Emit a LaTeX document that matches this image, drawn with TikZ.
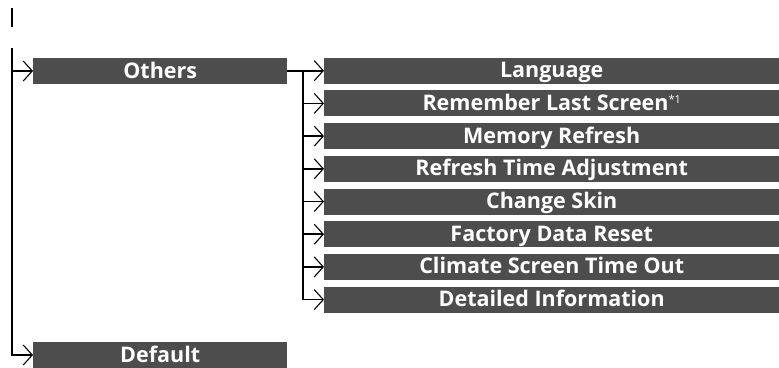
\documentclass[tikz,border=0pt]{standalone}
\usepackage{fontspec}
\setmainfont{Open Sans}
\usetikzlibrary{arrows.meta,positioning,calc}
\definecolor{menugray}{HTML}{4D4D4D}

\begin{document}
\begin{tikzpicture}[x=1pt,y=-1pt,
  menu/.style={fill=menugray,text=white,font=\bfseries\fontsize{21.5}{21.5}\selectfont,
    minimum height=26pt,inner sep=0pt,text height=15pt,text depth=1pt,anchor=west},
  tree/.style={line width=1.6pt},
  branch/.style={line width=1.6pt,-{Straight Barb[length=9pt,width=20pt,line width=1.1pt]}}]
\useasboundingbox (0,0) rectangle (779,367);
% top level
\draw[tree] (12,8) -- (12,27);
\coordinate (root) at (12,48);
\node[menu,minimum width=254pt] (others) at (33,71) {Others};
\node[menu,minimum width=254pt] (default) at (33,355) {Default};
\draw[branch] (root |- others.west) -- (others.west);
\draw[branch] (root) |- (default.west);
% items under Others
\coordinate (split) at (303,71);
\draw[tree] (others.east) -- (split);
\foreach \i/\name/\lab in {0/lang/Language,
  1/remember/{Remember Last Screen\raisebox{7pt}{\fontsize{11}{11}\selectfont\mdseries *1}},
  2/memory/Memory Refresh,3/refresh/Refresh Time Adjustment,4/skin/Change Skin,
  5/factory/Factory Data Reset,6/climate/Climate Screen Time Out,7/detail/Detailed Information} {
  \node[menu,minimum width=455pt] (\name) at (324,70.7+32.7*\i) {\lab};
}
\draw[tree] (split) -- (split |- detail.west);
\foreach \name in {lang,remember,memory,refresh,skin,factory,climate} {
  \draw[branch] (split |- \name.west) -- (\name.west);
}
\draw[branch] (split |- climate.west) |- (detail.west);
\end{tikzpicture}
\end{document}
